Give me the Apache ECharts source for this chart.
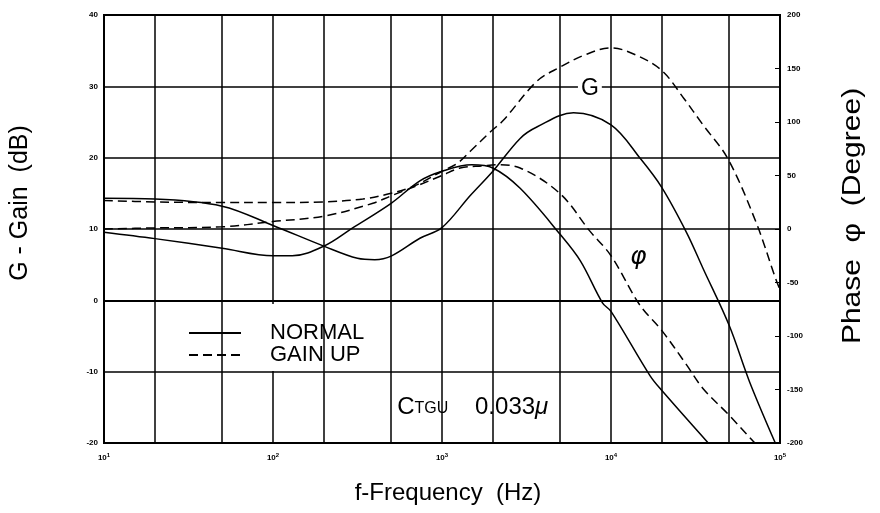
<!DOCTYPE html>
<html>
<head>
<meta charset="utf-8">
<script src="https://cdn.jsdelivr.net/npm/echarts@6/dist/echarts.min.js"></script>
<style>
html, body { margin: 0; padding: 0; background: #fff; }
#chart { width: 880px; height: 513px; }
</style>
</head>
<body>
<div id="chart"></div>
<script>
// gain / phase vs frequency, CTGU 0.033u
// [freq Hz, gain dB]
const gainNormal = [[10,14.3],[20,14.2],[50,13.2],[100,10.5],[200,7.6],[316,5.9],[400,5.7],[500,6.2],[740,8.7],[1000,10.2],
    [1470,14.7],[2000,18.1],[2900,22.7],[3640,24.3],[6000,26.3],[10000,24.6],[15000,19.8],[20000,15.8],[28000,9.5],
    [35000,4.5],[50000,-3.5],[66000,-11.4],[95000,-20.3],[100000,-21.2]];
const gainUp = [[10,14.0],[20,13.8],[50,13.7],[100,13.7],[200,13.8],[340,14.2],[500,15.0],[680,16.0],[1000,18.1],[1230,19.2],
    [1470,20.9],[1950,23.7],[2300,25.2],[3640,30.7],[5000,32.7],[7000,34.4],[10000,35.4],[14000,34.4],[20000,32.2],
    [27000,28.3],[35000,24.6],[49000,19.9],[72000,11.0],[95000,2.8],[100000,1.5]];
// [freq Hz, phase degree]
const phaseNormal = [[10,-3],[20,-9],[50,-18],[100,-25],[130,-25],[200,-16],[296,1],[500,24],[740,45],[1000,54],[1500,60],
    [2000,57],[2900,38],[5000,-5],[6600,-30],[8900,-69],[10000,-77],[17000,-137],[20000,-151],[38600,-202]];
const phaseUp = [[10,0],[20,1],[50,2],[100,7],[200,12],[390,24],[500,31],[700,40],[1000,50],[1280,57],[1750,59],[2100,60],
    [2900,57],[5000,33],[7500,-2],[10000,-25],[14800,-71],[20000,-95],[28000,-127],[35000,-149],[50000,-174],[69000,-198],[74000,-203]];

// extra vertical grid lines between the decades
const gridFreqs = [20, 50, 200, 500, 2000, 5000, 20000, 50000];
const gainRange = [-20, 40, 10];
const phaseRange = [-200, 200, 50];

const FONT = 'Liberation Sans';
const chart = echarts.init(document.getElementById('chart'));

const curve = (name, data, axis, dashed) => ({
    name: name,
    type: 'line',
    yAxisIndex: axis,
    data: data,
    smooth: 0.35,
    symbol: 'none',
    silent: true,
    color: '#000',
    lineStyle: { color: '#000', width: 1.5, type: dashed ? [9, 5] : 'solid' }
});

const series = [
    curve('NORMAL', gainNormal, 0, false),
    curve('GAIN UP', gainUp, 0, true),
    curve('NORMAL', phaseNormal, 1, false),
    curve('GAIN UP', phaseUp, 1, true)
];

series[0].markLine = {
    silent: true,
    symbol: 'none',
    label: { show: false },
    lineStyle: { color: '#000', width: 1.5, type: 'solid' },
    data: gridFreqs.map(f => ({ xAxis: f }))
};
series[1].markPoint = {
    silent: true,
    symbolSize: 0,
    data: [{ coord: [7500, 29.7] }, { coord: [1520, -15] }],
    label: {
        show: true,
        position: 'inside',
        color: '#000',
        fontFamily: FONT,
        formatter: p => p.dataIndex === 0 ? '{g|G}' : '{b|C}{s|TGU}{b|    0.033}{m|μ}',
        rich: {
            g: { fontSize: 23, fontFamily: FONT, backgroundColor: '#fff', padding: [0, 3] },
            b: { fontSize: 24, fontFamily: FONT },
            s: { fontSize: 16, fontFamily: FONT, padding: [3, 0, 0, 0] },
            m: { fontSize: 24, fontFamily: FONT, fontStyle: 'italic' }
        }
    }
};
series[3].markPoint = {
    silent: true,
    symbolSize: 0,
    data: [{ coord: [14500, -27] }],
    label: { show: true, position: 'inside', formatter: 'φ', fontSize: 25, fontStyle: 'italic', fontFamily: 'DejaVu Sans', color: '#000' }
};

const option = {
    animation: false,
    backgroundColor: '#fff',
    grid: { left: 104, right: 100, top: 15, bottom: 70, show: true, borderColor: '#000', borderWidth: 2 },
    legend: {
        data: ['NORMAL', 'GAIN UP'],
        orient: 'vertical',
        left: 188,
        top: 322,
        padding: 0,
        itemWidth: 52,
        itemHeight: 14,
        itemGap: 0,
        selectedMode: false,
        itemStyle: { opacity: 0 },
        textStyle: { fontSize: 22, fontFamily: FONT, color: '#000', lineHeight: 22, padding: [0, 0, 0, 24] }
    },
    xAxis: {
        type: 'log',
        logBase: 10,
        min: 10,
        max: 100000,
        axisLine: { lineStyle: { color: '#000', width: 2 } },
        axisTick: { show: false },
        splitLine: { show: true, lineStyle: { color: '#000', width: 1.5 } },
        axisLabel: {
            margin: 9,
            color: '#000',
            fontSize: 8,
            fontWeight: 'bold',
            fontFamily: FONT,
            formatter: v => '10{s|' + Math.round(Math.log10(v)) + '}',
            rich: { s: { fontSize: 6, fontWeight: 'bold', padding: [0, 0, 5, 0] } }
        }
    },
    yAxis: [{
        type: 'value',
        min: gainRange[0],
        max: gainRange[1],
        interval: gainRange[2],
        axisLine: { show: true, lineStyle: { color: '#000', width: 2 } },
        axisTick: { show: false },
        splitLine: { lineStyle: { color: '#000', width: 1.5 } },
        axisLabel: { margin: 6, color: '#000', fontSize: 8, fontWeight: 'bold', fontFamily: FONT }
    }, {
        type: 'value',
        position: 'right',
        min: phaseRange[0],
        max: phaseRange[1],
        interval: phaseRange[2],
        axisLine: { show: true, lineStyle: { color: '#000', width: 2 } },
        axisTick: { show: true, inside: true, length: 5, lineStyle: { color: '#000' } },
        splitLine: { show: false },
        axisLabel: { margin: 7, color: '#000', fontSize: 8, fontWeight: 'bold', fontFamily: FONT }
    }],
    graphic: [
        // white box behind the legend text
        { type: 'rect', z: 3, silent: true, shape: { x: 245, y: 304, width: 135, height: 67 }, style: { fill: '#fff' } },
        { type: 'text', x: 448, y: 493, silent: true,
          style: { text: 'f-Frequency  (Hz)', font: '24px "Liberation Sans"', fill: '#000', textAlign: 'center', textVerticalAlign: 'middle' } },
        { type: 'text', x: 20, y: 203, rotation: Math.PI / 2, silent: true,
          style: { text: 'G - Gain  (dB)', font: '25px "Liberation Sans"', fill: '#000', textAlign: 'center', textVerticalAlign: 'middle' } },
        { type: 'text', x: 853, y: 216, rotation: Math.PI / 2, scaleX: 1.2, silent: true,
          style: { text: 'Phase  φ  (Degree)', font: '25px "Liberation Sans"', fill: '#000', textAlign: 'center', textVerticalAlign: 'middle' } }
    ],
    series: series
};

chart.setOption(option);
</script>
</body>
</html>
